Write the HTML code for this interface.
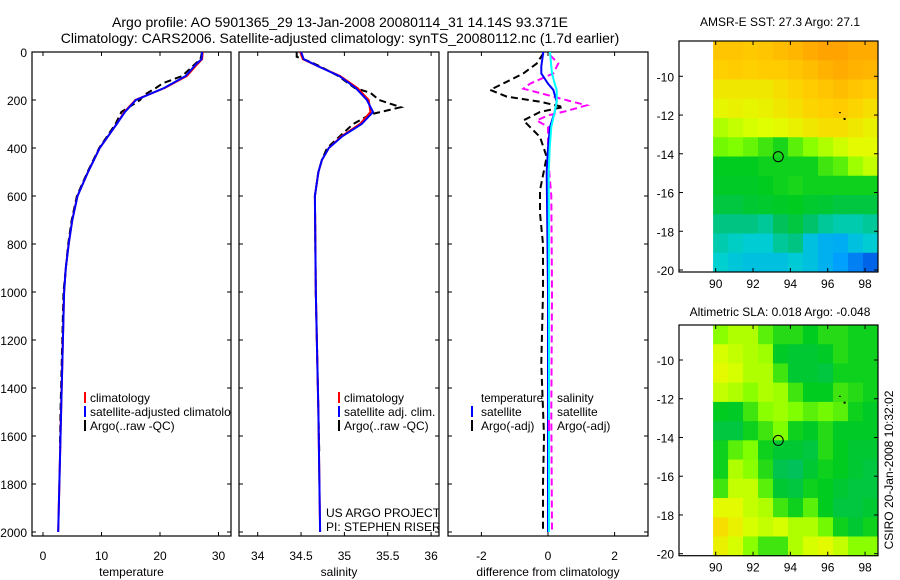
<!DOCTYPE html>
<html><head><meta charset="utf-8"><style>
body{margin:0;background:#fff;}
svg{display:block;font-family:"Liberation Sans",sans-serif;}
</style></head><body>
<svg id="c" width="900" height="580" viewBox="0 0 900 580" xmlns="http://www.w3.org/2000/svg">
<defs>
<clipPath id="cp1"><rect x="32" y="52" width="199" height="484"/></clipPath>
<clipPath id="cp2"><rect x="239" y="52" width="200" height="484"/></clipPath>
<clipPath id="cp3"><rect x="448" y="52" width="200" height="484"/></clipPath>
</defs>
<text x="340" y="27" font-size="14" text-anchor="middle">Argo profile: AO 5901365_29 13-Jan-2008 20080114_31 14.14S 93.371E</text>
<text x="340" y="43" font-size="14" text-anchor="middle">Climatology: CARS2006. Satellite-adjusted climatology: synTS_20080112.nc (1.7d earlier)</text>
<text x="780" y="26" font-size="12" text-anchor="middle">AMSR-E SST: 27.3 Argo: 27.1</text>
<text x="780" y="316" font-size="12" text-anchor="middle">Altimetric SLA: 0.018 Argo: -0.048</text>
<text transform="translate(893,470) rotate(-90)" font-size="12" text-anchor="middle">CSIRO 20-Jan-2008 10:32:02</text>
<g id="g"></g>
</svg>
<script>
// ---- profile data ----
const tempDepth = [0,30,50,100,150,200,250,300,400,500,600,700,800,900,1000,1500,2000];
const tempClim  = [27.3,27.2,26.4,24.6,20.8,15.8,13.9,12.6,9.7,7.7,5.9,5.0,4.4,3.9,3.6,3.1,2.6];
const tempSat   = [27.2,27.1,26.2,24.4,20.7,15.9,14.0,12.6,9.7,7.7,5.9,5.0,4.4,3.9,3.6,3.1,2.6];
const argoTempDepth = [0,30,50,100,130,150,180,200,250,300,400,500,600,700,800,1000,1500,1650];
const argoTemp      = [27.2,26.9,26.0,23.8,20.5,19.3,17.2,16.6,13.4,12.4,9.6,7.6,5.8,4.9,4.3,3.5,3.0,2.9];
const salDepth = [0,30,60,100,150,200,250,300,350,400,450,500,600,1000,1500,2000];
const salClim  = [34.49,34.52,34.7,34.95,35.15,35.28,35.3,35.18,34.97,34.82,34.74,34.7,34.66,34.67,34.7,34.72];
const salSat   = [34.5,34.53,34.7,34.94,35.13,35.26,35.33,35.2,34.98,34.82,34.74,34.7,34.66,34.67,34.7,34.72];
const argoSalDepth = [0,20,40,60,100,150,170,200,230,260,300,350,400,450,500,600,1000,1500,1680];
const argoSal      = [34.45,34.45,34.6,34.72,34.93,35.12,35.3,35.4,35.65,35.3,35.1,34.95,34.8,34.74,34.7,34.66,34.67,34.7,34.71];
// difference panel
const diffDepth = [6,48,89,124,158,186,207,229,250,285,354,437,576,673,800,1000,1300,1600,1800,2000];
const diffArgoT = [-0.14,-0.34,-0.74,-1.24,-1.74,-1.24,-0.24,0.46,-0.24,-0.74,-0.24,-0.04,-0.24,-0.24,-0.15,-0.15,-0.2,-0.12,-0.15,-0.15];
const diffArgoSDepth = [13,48,89,132,153,180,201,222,246,264,285,312,437,600,1000,1500,2000];
const diffArgoS = [0.06,0.31,0.16,-0.54,-0.74,0.0,0.56,1.16,0.56,0.0,-0.34,0.0,0.0,0.1,0.12,0.1,0.12];
const diffSatDepth = [0,60,89,132,158,207,250,312,400,500,1000,1500,2000];
const diffSatT = [-0.14,-0.2,-0.2,0,0.16,0.26,0.2,0.06,0,-0.04,0,0,0];
const diffSatS = [0.06,0.1,0.12,0.2,0.26,0.26,0.2,0.1,0.05,0.02,0.03,0.03,0.03];
// ticks
const depthTicks = [0,200,400,600,800,1000,1200,1400,1600,1800,2000];
const tempTicks = [0,10,20,30];
const salTicks = [34,34.5,35,35.5,36];
const diffTicks = [-2,0,2];
const latTicks = [-10,-12,-14,-16,-18,-20];
const lonTicks = [90,92,94,96,98];
// map grids (rows top->bottom lat -8.2..-20.1, cols lon 89.9..98.7), normalized 0..1
const sstGrid = [
[0.88,0.88,0.87,0.88,0.9,0.92,0.95,0.97,0.97,0.95,0.95],
[0.85,0.86,0.85,0.86,0.86,0.88,0.9,0.93,0.95,0.93,0.92],
[0.8,0.8,0.8,0.8,0.82,0.84,0.86,0.88,0.9,0.88,0.86],
[0.77,0.78,0.77,0.78,0.8,0.82,0.84,0.85,0.86,0.84,0.82],
[0.7,0.72,0.74,0.75,0.76,0.78,0.8,0.82,0.82,0.8,0.78],
[0.64,0.65,0.63,0.6,0.57,0.62,0.66,0.7,0.73,0.76,0.76],
[0.55,0.55,0.55,0.56,0.56,0.56,0.56,0.6,0.62,0.68,0.72],
[0.54,0.54,0.54,0.55,0.56,0.57,0.56,0.56,0.56,0.56,0.56],
[0.5,0.5,0.52,0.53,0.54,0.55,0.53,0.52,0.5,0.5,0.5],
[0.42,0.42,0.42,0.4,0.46,0.5,0.44,0.4,0.38,0.38,0.4],
[0.38,0.36,0.34,0.34,0.4,0.42,0.3,0.25,0.24,0.3,0.34],
[0.35,0.32,0.3,0.3,0.3,0.33,0.3,0.25,0.2,0.12,0.05]];
const slaGrid = [
[0.66,0.7,0.7,0.62,0.58,0.58,0.55,0.58,0.58,0.56,0.56],
[0.74,0.72,0.7,0.68,0.54,0.52,0.52,0.54,0.58,0.56,0.56],
[0.76,0.74,0.7,0.7,0.6,0.52,0.52,0.5,0.56,0.56,0.56],
[0.72,0.7,0.66,0.7,0.68,0.6,0.55,0.55,0.6,0.58,0.56],
[0.55,0.54,0.6,0.66,0.68,0.65,0.62,0.64,0.62,0.56,0.54],
[0.5,0.5,0.56,0.6,0.65,0.56,0.54,0.58,0.54,0.54,0.54],
[0.56,0.62,0.65,0.56,0.52,0.52,0.5,0.58,0.55,0.52,0.52],
[0.56,0.7,0.66,0.58,0.48,0.46,0.52,0.56,0.55,0.52,0.5],
[0.6,0.72,0.72,0.62,0.52,0.5,0.56,0.55,0.52,0.5,0.5],
[0.76,0.76,0.72,0.7,0.6,0.56,0.62,0.55,0.5,0.5,0.52],
[0.82,0.78,0.74,0.72,0.74,0.7,0.7,0.64,0.56,0.52,0.56],
[0.78,0.74,0.66,0.6,0.6,0.7,0.74,0.76,0.72,0.66,0.66]];
const floatLon = [93.35];
const floatLat = [-14.15];

const NS='http://www.w3.org/2000/svg';
const G=document.getElementById('g');
function mk(tag,attrs,parent){const e=document.createElementNS(NS,tag);for(const k in attrs)e.setAttribute(k,attrs[k]);(parent||G).appendChild(e);return e;}
const yD=d=>52+d*0.24;
const xT=v=>43+v*5.85;
const xS=v=>257.7+(v-34)*86.7;
const xF=v=>548+v*33.3;

function frame(x0,x1,y0,y1,name){
  const r=mk('rect',{x:x0,y:y0,width:x1-x0,height:y1-y0,fill:'none',stroke:'#000','stroke-width':1.2});
  
  
}
function line(xs,ys,xf,color,dash,name,clip){
  const pts=xs.map((v,i)=>xf(v).toFixed(1)+','+yD(ys[i]).toFixed(1)).join(' ');
  const p=mk('polyline',{points:pts,fill:'none',stroke:color,'stroke-width':2,'clip-path':'url(#'+clip+')'});
  if(dash)p.setAttribute('stroke-dasharray',dash);
  
  
}
function text(x,y,s,anchor,size,name,clip){
  const t=mk('text',{x:x,y:y,'font-size':size||12,'text-anchor':anchor||'start'});
  if(clip)t.setAttribute('clip-path','url(#'+clip+')');
  t.textContent=s;
  
  
  return t;
}
function tick(x1,y1,x2,y2){const l=mk('line',{x1:x1,y1:y1,x2:x2,y2:y2,stroke:'#000','stroke-width':1});
  
  }

const panels=[[32,231,'cp1',xT,tempTicks,'temperature'],[239,439,'cp2',xS,salTicks,'salinity'],[448,648,'cp3',xF,diffTicks,'difference from climatology']];
panels.forEach((p,pi)=>{
  const [x0,x1,cp,xf,ticks,lab]=p;
  frame(x0,x1,52,536,'profile-panel-'+(pi+1)+'-frame');
  depthTicks.forEach(d=>{tick(x0,yD(d),x0+4,yD(d));tick(x1,yD(d),x1-4,yD(d));});
  ticks.forEach(v=>{const x=xf(v);tick(x,536,x,532);tick(x,52,x,56);
    text(x,560,String(v),'middle',12,'x-tick-label',null);});
  text((x0+x1)/2,576,lab,'middle',12,'x-axis-title',null);
});
depthTicks.forEach(d=>text(27,yD(d)+5,String(d),'end',12,'y-tick-label',null));

line(argoTemp,argoTempDepth,xT,'#000','7,4','argo-temperature-line','cp1');
line(tempClim,tempDepth,xT,'#f00',null,'climatology-temperature-line','cp1');
line(tempSat,tempDepth,xT,'#00f',null,'satellite-temperature-line','cp1');
line(argoSal,argoSalDepth,xS,'#000','7,4','argo-salinity-line','cp2');
line(salClim,salDepth,xS,'#f00',null,'climatology-salinity-line','cp2');
line(salSat,salDepth,xS,'#00f',null,'satellite-salinity-line','cp2');
line(diffArgoT,diffDepth,xF,'#000','7,4','argo-temperature-diff-line','cp3');
line(diffArgoS,diffArgoSDepth,xF,'#f0f','7,4','argo-salinity-diff-line','cp3');
line(diffSatT,diffSatDepth,xF,'#00f',null,'satellite-temperature-diff-line','cp3');
line(diffSatS,diffSatDepth,xF,'#0ff',null,'satellite-salinity-diff-line','cp3');

function legMark(x,y,color){const l=mk('line',{x1:x,y1:y-6,x2:x,y2:y+5,stroke:color,'stroke-width':2});
  
  }
const leg1=[['climatology','#f00'],['satellite-adjusted climatology','#00f'],['Argo(..raw -QC)','#000']];
leg1.forEach((e,i)=>{legMark(85,398+i*14,e[1]);text(90,402+i*14,e[0],'start',12,'legend-entry','cp1');});
const leg2=[['climatology','#f00'],['satellite adj. clim.','#00f'],['Argo(..raw -QC)','#000']];
leg2.forEach((e,i)=>{legMark(339,398+i*14,e[1]);text(344,402+i*14,e[0],'start',12,'legend-entry','cp2');});
text(481,402,'temperature','start',11.5,'legend-header',null);
text(557,402,'salinity','start',12,'legend-header',null);
legMark(472,412,'#00f');text(481,416,'satellite','start',12,'legend-entry',null);
legMark(472,426,'#000');text(481,430,'Argo(-adj)','start',12,'legend-entry',null);
legMark(549,412,'#0ff');text(557,416,'satellite','start',12,'legend-entry',null);
legMark(549,426,'#f0f');text(557,430,'Argo(-adj)','start',12,'legend-entry',null);
text(326,517,'US ARGO PROJECT','start',12,'project-label','cp2');
text(326,531,'PI: STEPHEN RISER','start',12,'pi-label','cp2');

const cmStops=[[0,[0,80,224]],[0.2,[0,160,255]],[0.35,[0,208,208]],[0.45,[0,192,96]],[0.55,[0,204,32]],[0.65,[128,255,0]],[0.75,[224,255,0]],[0.85,[255,208,0]],[1,[255,152,0]]];
function cmap(v){for(let i=1;i<cmStops.length;i++){if(v<=cmStops[i][0]){const a=cmStops[i-1],b=cmStops[i];const t=(v-a[0])/(b[0]-a[0]);
  return 'rgb('+a[1].map((c,k)=>Math.round(c+(b[1][k]-c)*t)).join(',')+')';}}return 'rgb(255,152,0)';}

function map(grid,top,lat10y,name){
  const lx=v=>715.7+(v-90)*18.67;
  const ly=v=>lat10y+(-10-v)*19.37;
  const x0=679,x1=878,y1=ly(-20)+2;
  const lon0=89.86,lon1=98.69,lat0=-10+(lat10y-top)/19.37,lat1=-20-(y1-ly(-20))/19.37;
  const nr=grid.length,nc=grid[0].length;
  const dlon=(lon1-lon0)/nc,dlat=(lat0-lat1)/nr;
  grid.forEach((row,r)=>row.forEach((v,c)=>{
    const xa=lx(lon0+c*dlon),xb=lx(lon0+(c+1)*dlon),ya=ly(lat0-r*dlat),yb=ly(lat0-(r+1)*dlat);
    const e=mk('rect',{x:xa.toFixed(2),y:ya.toFixed(2),width:(xb-xa+0.5).toFixed(2),height:(yb-ya+0.5).toFixed(2),fill:cmap(v)});
    
    
  }));
  frame(x0,x1,top,y1,name+'-frame');
  latTicks.forEach(v=>{const y=ly(v);tick(x0,y,x0+4,y);tick(x1,y,x1-4,y);text(674,y+5,String(v),'end',12,'lat-tick-label',null);});
  lonTicks.forEach(v=>{const x=lx(v);tick(x,y1,x,y1-4);tick(x,top,x,top+4);});
  floatLon.forEach((lo,i)=>{const c=mk('circle',{cx:lx(lo),cy:ly(floatLat[i]),r:5,fill:'none',stroke:'#000','stroke-width':1});
    
    });
  const d1=mk('rect',{x:lx(96.6),y:ly(-11.85),width:2,height:1,fill:'#000'});
  
  
  const d2=mk('rect',{x:lx(96.85),y:ly(-12.15),width:2,height:2,fill:'#000'});
  
  
  return {lx,y1};
}
map(sstGrid,41,76.3,'sst-map');
const m2=map(slaGrid,325,360,'sla-map');
lonTicks.forEach(v=>text(m2.lx(v),m2.y1+16,String(v),'middle',12,'lon-tick-label',null));
lonTicks.forEach(v=>text(m2.lx(v),288,String(v),'middle',12,'lon-tick-label',null));
</script>
</body></html>
